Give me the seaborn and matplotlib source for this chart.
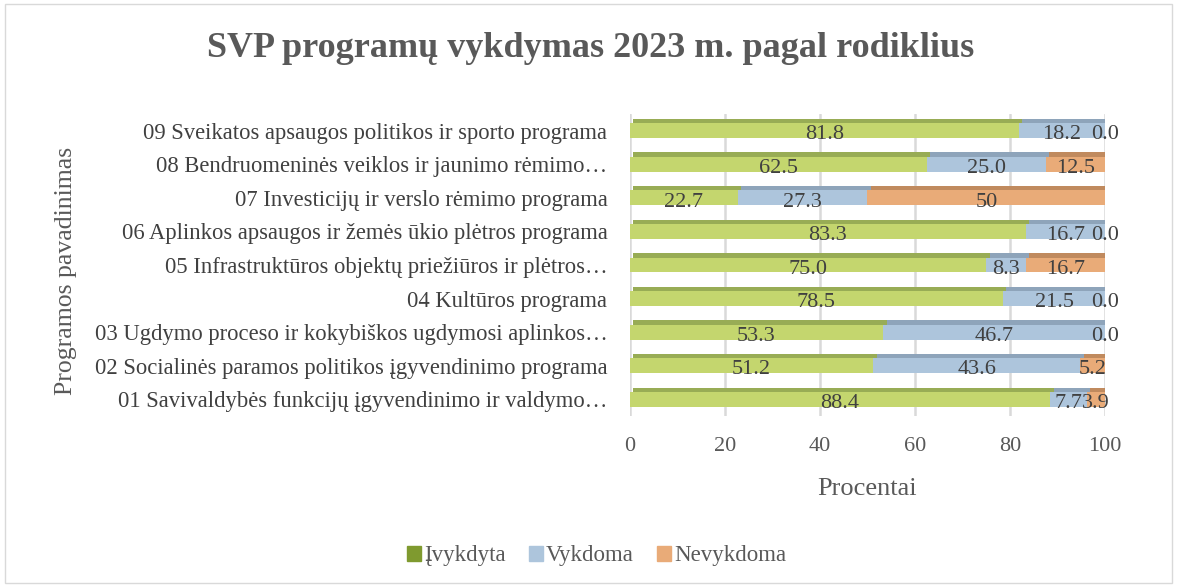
import numpy as np
import pandas as pd
import matplotlib
matplotlib.use("Agg")
import matplotlib.pyplot as plt
import matplotlib.patheffects as pe
from matplotlib.patches import Patch, Rectangle
import seaborn as sns

sns.set_style("white")
plt.rcParams["font.family"] = ["Liberation Serif", "DejaVu Serif"]

programos = [
    "09 Sveikatos apsaugos politikos ir sporto programa",
    "08 Bendruomeninės veiklos ir jaunimo rėmimo…",
    "07 Investicijų ir verslo rėmimo programa",
    "06 Aplinkos apsaugos ir žemės ūkio plėtros programa",
    "05 Infrastruktūros objektų priežiūros ir plėtros…",
    "04 Kultūros programa",
    "03 Ugdymo proceso ir kokybiškos ugdymosi aplinkos…",
    "02 Socialinės paramos politikos įgyvendinimo programa",
    "01 Savivaldybės funkcijų įgyvendinimo ir valdymo…",
]
ivykdyta = [81.8, 62.5, 22.7, 83.3, 75.0, 78.5, 53.3, 51.2, 88.4]
vykdoma = [18.2, 25.0, 27.3, 16.7, 8.3, 21.5, 46.7, 43.6, 7.7]
nevykdoma = [0.0, 12.5, 50.0, 0.0, 16.7, 0.0, 0.0, 5.2, 3.9]
serijos = ["Įvykdyta", "Vykdoma", "Nevykdoma"]

df = pd.DataFrame({"Programa": programos, "Įvykdyta": ivykdyta,
                   "Vykdoma": vykdoma, "Nevykdoma": nevykdoma})

front = ["#c4d66e", "#adc5dc", "#e9ab78"]
top = ["#98ac55", "#8ea4ba", "#c08a5e"]
legend_cols = ["#7f9a2f", "#adc5dc", "#e9ab78"]
txt = "#404040"

fig = plt.figure(figsize=(11.77, 5.87), dpi=100)
ax = fig.add_axes([0.535, 0.291, 0.404, 0.515])

left = np.zeros(len(df))
for i, s in enumerate(serijos):
    sns.barplot(data=df, x=s, y="Programa", orient="h", color=front[i],
                left=left.copy(), width=0.44, errorbar=None, ax=ax,
                linewidth=0, saturation=1,
                path_effects=[pe.withSimplePatchShadow(offset=(2.5, 3.2),
                                                       shadow_rgbFace=top[i],
                                                       alpha=1)])
    left = left + df[s].to_numpy()

for i, s in enumerate(serijos):
    labs = ["50" if v == 50 else f"{v:.1f}" for v in df[s]]
    anns = ax.bar_label(ax.containers[i], labels=labs, label_type="center",
                        fontsize=16, color=txt)
    for a in anns:
        a.xyann = (0, -3)

ax.set_xlim(0, 100)
ax.set_xticks([0, 20, 40, 60, 80, 100])
ax.tick_params(axis="x", length=0, pad=15, labelsize=16, labelcolor="#595959")
ax.tick_params(axis="y", length=0, pad=16, labelsize=16.3, labelcolor=txt)
ax.set_ylabel("")
ax.set_xlabel("Procentai", fontsize=19, color="#595959", labelpad=16)
ax.xaxis.grid(True, color="#d9d9d9", linewidth=1.8)
ax.set_axisbelow(True)
for sp in ax.spines.values():
    sp.set_visible(False)

fig.text(0.502, 0.918, "SVP programų vykdymas 2023 m. pagal rodiklius",
         ha="center", va="center", fontsize=26, fontweight="bold", color="#595959")
fig.text(0.056, 0.538, "Programos pavadinimas", rotation=90, ha="center",
         va="center", fontsize=18.5, color="#595959")

handles = [Patch(color=c, label=l) for c, l in zip(legend_cols, serijos)]
fig.legend(handles=handles, loc="center", bbox_to_anchor=(0.507, 0.053), ncol=3,
           frameon=False, fontsize=16.5, handlelength=0.6, handleheight=0.6,
           columnspacing=1.0, handletextpad=0.15, labelcolor="#595959")

fig.patches.append(Rectangle((0.004, 0.006), 0.992, 0.988, transform=fig.transFigure,
                             fill=False, ec="#d9d9d9", lw=1))

fig.savefig("out.png", dpi=100)
